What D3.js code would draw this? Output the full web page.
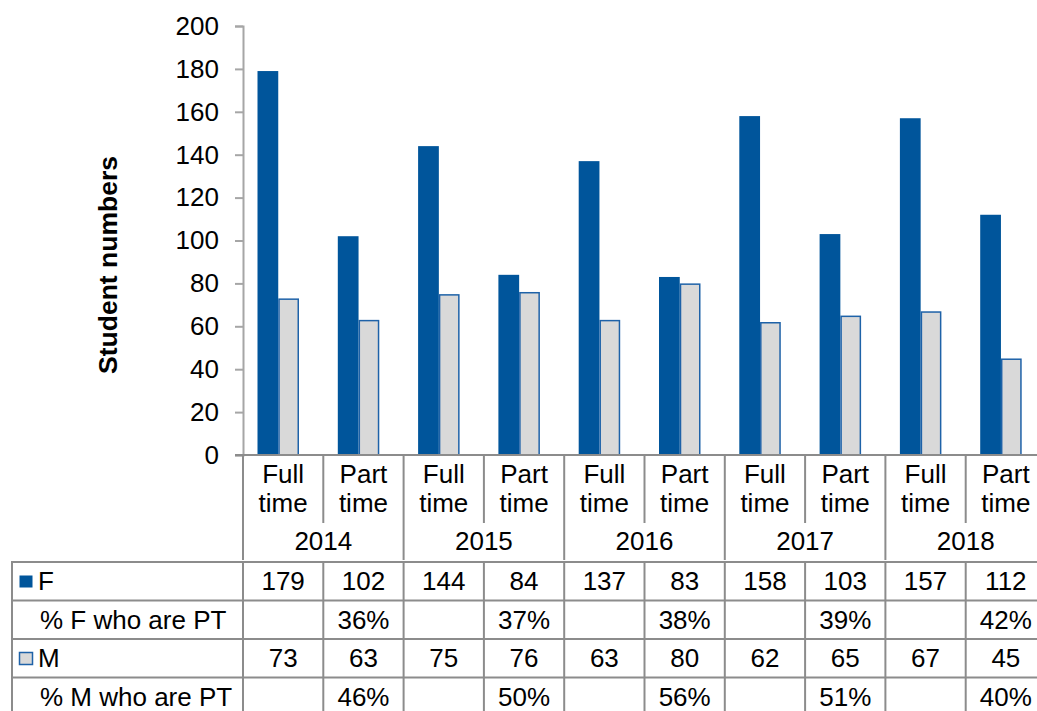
<!DOCTYPE html>
<html>
<head>
<meta charset="utf-8">
<script src="https://cdn.jsdelivr.net/npm/d3@7"></script>
<style>
  body { margin: 0; background: #fff; }
  text { font-family: "Liberation Sans", Arial, sans-serif; fill: #000; }
</style>
</head>
<body>
<div id="myVis"></div>
<script>
// data
var years = ["2014", "2015", "2016", "2017", "2018"];
var modes = ["Full time", "Part time"];
var femaleValues = [179, 102, 144, 84, 137, 83, 158, 103, 157, 112];
var maleValues = [73, 63, 75, 76, 63, 80, 62, 65, 67, 45];
var femalePT = ["36%", "37%", "38%", "39%", "42%"];
var malePT = ["46%", "50%", "56%", "51%", "40%"];
var yTicks = [0, 20, 40, 60, 80, 100, 120, 140, 160, 180, 200];

var width = 1037;
var height = 711;
var fBlue = "#00559b";
var mGrey = "#d9d9d9";
var lineGrey = "#8c8c8c";
var fontSize = 26;

var cats = [];
years.forEach(function (y) {
  modes.forEach(function (m) { cats.push(y + "|" + m); });
});

var svg = d3.select("#myVis")
  .append("svg")
  .attr("width", width)
  .attr("height", height);

var x = d3.scaleBand().domain(cats).range([243, 1046]);
var sub = d3.scaleBand().domain(["F", "M"]).range([14.5, 56]);
var y = d3.scaleLinear().domain([0, 200]).range([455, 26]);

// y axis
var yAxis = svg.append("g")
  .attr("transform", "translate(243,0)")
  .call(d3.axisLeft(y).tickValues(yTicks).tickSize(8).tickPadding(16));
yAxis.select(".domain").attr("stroke", "#a6a6a6").attr("stroke-width", 2);
yAxis.selectAll(".tick line").attr("stroke", "#a6a6a6").attr("stroke-width", 2);
yAxis.selectAll(".tick text")
  .attr("font-size", fontSize)
  .attr("font-family", "Liberation Sans, Arial, sans-serif")
  .attr("fill", "#000");

svg.append("text")
  .attr("transform", "translate(117,265) rotate(-90)")
  .attr("text-anchor", "middle")
  .attr("font-size", 26.5)
  .attr("font-weight", "bold")
  .text("Student numbers");

// bars
var rows = cats.map(function (c, i) {
  return { cat: c, f: femaleValues[i], m: maleValues[i] };
});

svg.selectAll(".barF")
  .data(rows)
  .enter()
  .append("rect")
  .attr("class", "barF")
  .attr("x", function (d) { return x(d.cat) + sub("F"); })
  .attr("y", function (d) { return y(d.f); })
  .attr("width", sub.bandwidth())
  .attr("height", function (d) { return y(0) - y(d.f); })
  .attr("fill", fBlue);

svg.selectAll(".barM")
  .data(rows)
  .enter()
  .append("rect")
  .attr("class", "barM")
  .attr("x", function (d) { return x(d.cat) + sub("M") + 0.75; })
  .attr("y", function (d) { return y(d.m) + 0.75; })
  .attr("width", sub.bandwidth() - 1.5)
  .attr("height", function (d) { return y(0) - y(d.m) - 0.75; })
  .attr("fill", mGrey)
  .attr("stroke", "#1e62a8")
  .attr("stroke-width", 1.5);

// table lines
var g = svg.append("g").attr("stroke", lineGrey).attr("stroke-width", 2);
var bw = x.bandwidth();
var rowTops = [562, 600.5, 639, 677.5, 716];

// x axis line
g.append("line").attr("x1", 235).attr("x2", width).attr("y1", 455).attr("y2", 455);

// category separators
cats.forEach(function (c, i) {
  var xx = x(c);
  var isYear = i % 2 === 0;
  g.append("line")
    .attr("x1", xx).attr("x2", xx)
    .attr("y1", 455).attr("y2", isYear ? 560 : 523);
  g.append("line")
    .attr("x1", xx).attr("x2", xx)
    .attr("y1", 562).attr("y2", height);
});
g.append("line").attr("x1", 12).attr("x2", 12).attr("y1", 562).attr("y2", height);
rowTops.forEach(function (r) {
  g.append("line").attr("x1", 11).attr("x2", width).attr("y1", r).attr("y2", r);
});

// category labels
cats.forEach(function (c) {
  var parts = c.split("|")[1].split(" ");
  var t = svg.append("text")
    .attr("text-anchor", "middle")
    .attr("font-size", fontSize);
  t.append("tspan").attr("x", x(c) + bw / 2).attr("y", 483).text(parts[0]);
  t.append("tspan").attr("x", x(c) + bw / 2).attr("y", 512).text(parts[1]);
});

years.forEach(function (yr, i) {
  svg.append("text")
    .attr("x", x(cats[i * 2]) + bw)
    .attr("y", 550)
    .attr("text-anchor", "middle")
    .attr("font-size", fontSize)
    .text(yr);
});

// table rows
var tableRows = [
  { label: "F", key: fBlue, values: femaleValues.map(String) },
  { label: "% F who are PT", values: cats.map(function (c, i) { return i % 2 ? femalePT[(i - 1) / 2] : ""; }) },
  { label: "M", key: mGrey, values: maleValues.map(String) },
  { label: "% M who are PT", values: cats.map(function (c, i) { return i % 2 ? malePT[(i - 1) / 2] : ""; }) }
];

tableRows.forEach(function (row, r) {
  var base = rowTops[r] + 28;
  if (row.key) {
    svg.append("rect")
      .attr("x", 19.5).attr("y", rowTops[r] + 13.5)
      .attr("width", 13).attr("height", 12)
      .attr("fill", row.key)
      .attr("stroke", row.key === mGrey ? "#1e62a8" : "none")
      .attr("stroke-width", 1.5);
  }
  svg.append("text")
    .attr("x", row.key ? 38 : 40)
    .attr("y", base)
    .attr("font-size", fontSize)
    .text(row.label);
  row.values.forEach(function (v, i) {
    svg.append("text")
      .attr("x", x(cats[i]) + bw / 2)
      .attr("y", base)
      .attr("text-anchor", "middle")
      .attr("font-size", fontSize)
      .text(v);
  });
});
</script>
</body>
</html>
